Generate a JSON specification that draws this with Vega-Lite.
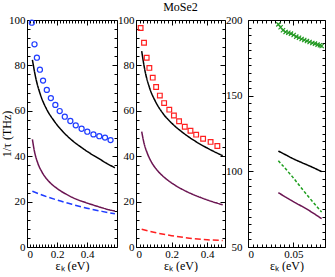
{
 "$schema": "https://vega.github.io/schema/vega-lite/v6.json",
 "padding": {"left": 0, "top": 0, "right": 0, "bottom": 0},
 "spacing": -2,
 "config": {
  "view": {"stroke": "#000", "strokeWidth": 1},
  "axis": {"labelFont": "Liberation Serif", "titleFont": "Liberation Serif", "labelFontSize": 11, "titleFontSize": 12, "titleFontWeight": "normal", "labelColor": "#000", "titleColor": "#000", "tickColor": "#000", "domain": false, "grid": false, "minExtent": 0},
  "axisTop": {"maxExtent": 0, "minExtent": 0},
  "axisRight": {"maxExtent": 0, "minExtent": 0},
  "title": {"font": "Liberation Serif", "fontSize": 12, "fontWeight": "normal", "color": "#000"}
 },
 "datasets": {
  "p1": [
   {"s": "pt", "x": 0.032, "y": 98.8}, {"s": "pt", "x": 0.05, "y": 89.3}, {"s": "pt", "x": 0.066, "y": 83.4}, {"s": "pt", "x": 0.086, "y": 78.1}, {"s": "pt", "x": 0.107, "y": 73.3}, {"s": "pt", "x": 0.132, "y": 69.2}, {"s": "pt", "x": 0.159, "y": 65.6}, {"s": "pt", "x": 0.189, "y": 62.6}, {"s": "pt", "x": 0.218, "y": 59.9}, {"s": "pt", "x": 0.252, "y": 57.4}, {"s": "pt", "x": 0.289, "y": 55.5}, {"s": "pt", "x": 0.325, "y": 53.6}, {"s": "pt", "x": 0.364, "y": 52.1}, {"s": "pt", "x": 0.402, "y": 50.8}, {"s": "pt", "x": 0.443, "y": 49.6}, {"s": "pt", "x": 0.482, "y": 48.8}, {"s": "pt", "x": 0.52, "y": 48.2}, {"s": "pt", "x": 0.557, "y": 47.1},
   {"s": "black", "x": 0.036, "y": 82.4}, {"s": "black", "x": 0.06, "y": 74.0}, {"s": "black", "x": 0.09, "y": 67.0}, {"s": "black", "x": 0.13, "y": 60.8}, {"s": "black", "x": 0.18, "y": 55.6}, {"s": "black", "x": 0.24, "y": 50.8}, {"s": "black", "x": 0.3, "y": 47.0}, {"s": "black", "x": 0.36, "y": 44.0}, {"s": "black", "x": 0.42, "y": 41.3}, {"s": "black", "x": 0.48, "y": 38.9}, {"s": "black", "x": 0.53, "y": 36.9}, {"s": "black", "x": 0.586, "y": 34.9},
   {"s": "purple", "x": 0.036, "y": 47.4}, {"s": "purple", "x": 0.05, "y": 42.0}, {"s": "purple", "x": 0.07, "y": 37.3}, {"s": "purple", "x": 0.1, "y": 33.0}, {"s": "purple", "x": 0.14, "y": 29.3}, {"s": "purple", "x": 0.2, "y": 25.8}, {"s": "purple", "x": 0.26, "y": 23.3}, {"s": "purple", "x": 0.32, "y": 21.3}, {"s": "purple", "x": 0.39, "y": 19.6}, {"s": "purple", "x": 0.46, "y": 18.1}, {"s": "purple", "x": 0.52, "y": 16.9}, {"s": "purple", "x": 0.586, "y": 15.8},
   {"s": "dashblue", "x": 0.036, "y": 24.6}, {"s": "dashblue", "x": 0.1, "y": 22.9}, {"s": "dashblue", "x": 0.2, "y": 20.7}, {"s": "dashblue", "x": 0.3, "y": 18.8}, {"s": "dashblue", "x": 0.4, "y": 17.1}, {"s": "dashblue", "x": 0.5, "y": 15.7}, {"s": "dashblue", "x": 0.586, "y": 14.6}
  ],
  "p2": [
   {"s": "pt", "x": 0.026, "y": 96.5}, {"s": "pt", "x": 0.045, "y": 90.0}, {"s": "pt", "x": 0.06, "y": 83.4}, {"s": "pt", "x": 0.075, "y": 78.9}, {"s": "pt", "x": 0.094, "y": 74.6}, {"s": "pt", "x": 0.113, "y": 70.5}, {"s": "pt", "x": 0.134, "y": 66.7}, {"s": "pt", "x": 0.158, "y": 63.4}, {"s": "pt", "x": 0.187, "y": 60.5}, {"s": "pt", "x": 0.213, "y": 57.9}, {"s": "pt", "x": 0.242, "y": 55.4}, {"s": "pt", "x": 0.274, "y": 53.0}, {"s": "pt", "x": 0.306, "y": 51.2}, {"s": "pt", "x": 0.338, "y": 49.5}, {"s": "pt", "x": 0.377, "y": 47.7}, {"s": "pt", "x": 0.419, "y": 46.3}, {"s": "pt", "x": 0.457, "y": 44.5},
   {"s": "black", "x": 0.032, "y": 86.3}, {"s": "black", "x": 0.05, "y": 77.8}, {"s": "black", "x": 0.075, "y": 70.4}, {"s": "black", "x": 0.11, "y": 64.0}, {"s": "black", "x": 0.15, "y": 59.0}, {"s": "black", "x": 0.2, "y": 54.6}, {"s": "black", "x": 0.25, "y": 51.2}, {"s": "black", "x": 0.3, "y": 48.3}, {"s": "black", "x": 0.35, "y": 45.8}, {"s": "black", "x": 0.4, "y": 43.6}, {"s": "black", "x": 0.45, "y": 41.6}, {"s": "black", "x": 0.487, "y": 40.2},
   {"s": "purple", "x": 0.032, "y": 50.8}, {"s": "purple", "x": 0.045, "y": 45.8}, {"s": "purple", "x": 0.065, "y": 41.0}, {"s": "purple", "x": 0.09, "y": 37.0}, {"s": "purple", "x": 0.125, "y": 33.3}, {"s": "purple", "x": 0.166, "y": 30.2}, {"s": "purple", "x": 0.21, "y": 27.7}, {"s": "purple", "x": 0.26, "y": 25.4}, {"s": "purple", "x": 0.31, "y": 23.5}, {"s": "purple", "x": 0.36, "y": 21.9}, {"s": "purple", "x": 0.42, "y": 20.2}, {"s": "purple", "x": 0.487, "y": 18.6},
   {"s": "dashred", "x": 0.032, "y": 7.8}, {"s": "dashred", "x": 0.1, "y": 6.5}, {"s": "dashred", "x": 0.2, "y": 5.0}, {"s": "dashred", "x": 0.3, "y": 3.9}, {"s": "dashred", "x": 0.4, "y": 3.2}, {"s": "dashred", "x": 0.487, "y": 2.9}
  ],
  "p3": [
   {"s": "pt", "x": 0.0335, "y": 197.1}, {"s": "pt", "x": 0.036, "y": 195.2}, {"s": "pt", "x": 0.0386, "y": 193.2}, {"s": "pt", "x": 0.0415, "y": 192.1}, {"s": "pt", "x": 0.0445, "y": 191.6}, {"s": "pt", "x": 0.0474, "y": 191.0}, {"s": "pt", "x": 0.0504, "y": 190.1}, {"s": "pt", "x": 0.0533, "y": 189.0}, {"s": "pt", "x": 0.0563, "y": 188.3}, {"s": "pt", "x": 0.0592, "y": 187.4}, {"s": "pt", "x": 0.0621, "y": 186.8}, {"s": "pt", "x": 0.0651, "y": 186.1}, {"s": "pt", "x": 0.068, "y": 185.5}, {"s": "pt", "x": 0.071, "y": 184.8}, {"s": "pt", "x": 0.0739, "y": 184.4}, {"s": "pt", "x": 0.0768, "y": 183.7}, {"s": "pt", "x": 0.0794, "y": 183.3}, {"s": "pt", "x": 0.0813, "y": 182.8},
   {"s": "black", "x": 0.0335, "y": 113.4}, {"s": "black", "x": 0.04, "y": 111.4}, {"s": "black", "x": 0.05, "y": 108.3}, {"s": "black", "x": 0.06, "y": 105.6}, {"s": "black", "x": 0.07, "y": 103.0}, {"s": "black", "x": 0.0813, "y": 99.8},
   {"s": "purple", "x": 0.0335, "y": 85.9}, {"s": "purple", "x": 0.05, "y": 80.0}, {"s": "purple", "x": 0.065, "y": 75.0}, {"s": "purple", "x": 0.0813, "y": 68.7},
   {"s": "dashgreen", "x": 0.0335, "y": 107.0}, {"s": "dashgreen", "x": 0.0489, "y": 96.5}, {"s": "dashgreen", "x": 0.0636, "y": 85.5}, {"s": "dashgreen", "x": 0.0813, "y": 73.1}
  ]
 },
 "resolve": {"scale": {"x": "independent", "y": "independent", "color": "shared", "strokeDash": "shared"}},
 "hconcat": [
  {
   "width": 90, "height": 227,
   "data": {"name": "p1"},
   "resolve": {"axis": {"x": "independent", "y": "independent"}},
   "layer": [
    {
     "transform": [{"filter": "datum.s != 'pt'"}],
     "mark": {"type": "line", "strokeWidth": 1.5, "interpolate": "monotone"},
     "encoding": {
      "x": {"field": "x", "type": "quantitative", "scale": {"domain": [0, 0.6], "nice": false, "zero": false}, "axis": {"orient": "bottom", "values": [0, 0.2, 0.4], "format": "~g", "title": "εₖ (eV)", "tickSize": -5, "labelPadding": 6, "titlePadding": 1}},
      "y": {"field": "y", "type": "quantitative", "scale": {"domain": [0, 100], "nice": false, "zero": false}, "axis": {"orient": "left", "values": [0, 20, 40, 60, 80, 100], "title": "1/τ (THz)", "tickSize": -5, "labelPadding": 7, "titlePadding": -5}},
      "color": {"field": "s", "type": "nominal", "scale": {"domain": ["black", "purple", "dashblue", "dashred", "dashgreen"], "range": ["#000000", "#6b1552", "#1f3cff", "#ff2020", "#1e9e1e"]}, "legend": null},
      "strokeDash": {"field": "s", "type": "nominal", "scale": {"domain": ["black", "purple", "dashblue", "dashred", "dashgreen"], "range": [[1, 0], [1, 0], [6, 3], [6, 3], [3, 2]]}, "legend": null}
     }
    },
    {
     "transform": [{"filter": "datum.s == 'pt'"}],
     "mark": {"type": "point", "shape": "circle", "color": "#1f3cff", "size": 26, "strokeWidth": 1.2, "opacity": 1},
     "encoding": {
      "x": {"field": "x", "type": "quantitative", "axis": {"orient": "bottom", "values": [0.02,0.04,0.06,0.08,0.1,0.12,0.14,0.16,0.18,0.2,0.22,0.24,0.26,0.28,0.3,0.32,0.34,0.36,0.38,0.4,0.42,0.44,0.46,0.48,0.5,0.52,0.54,0.56,0.58], "labels": false, "title": null, "tickSize": -3, "maxExtent": 0}},
      "y": {"field": "y", "type": "quantitative", "axis": {"orient": "left", "values": [4,8,12,16,24,28,32,36,44,48,52,56,64,68,72,76,84,88,92,96], "labels": false, "title": null, "tickSize": -3, "maxExtent": 0}}
     }
    },
    {
     "mark": {"type": "point", "opacity": 0},
     "encoding": {
      "x": {"field": "x", "type": "quantitative", "axis": {"orient": "top", "values": [0, 0.2, 0.4], "labels": false, "title": null, "tickSize": -5}},
      "y": {"field": "y", "type": "quantitative", "axis": {"orient": "right", "values": [0, 20, 40, 60, 80, 100], "labels": false, "title": null, "tickSize": -5}}
     }
    },
    {
     "mark": {"type": "point", "opacity": 0},
     "encoding": {
      "x": {"field": "x", "type": "quantitative", "axis": {"orient": "top", "values": [0.02,0.04,0.06,0.08,0.1,0.12,0.14,0.16,0.18,0.2,0.22,0.24,0.26,0.28,0.3,0.32,0.34,0.36,0.38,0.4,0.42,0.44,0.46,0.48,0.5,0.52,0.54,0.56,0.58], "labels": false, "title": null, "tickSize": -3}},
      "y": {"field": "y", "type": "quantitative", "axis": {"orient": "right", "values": [4,8,12,16,24,28,32,36,44,48,52,56,64,68,72,76,84,88,92,96], "labels": false, "title": null, "tickSize": -3}}
     }
    }
   ]
  },
  {
   "width": 89, "height": 227,
   "title": {"text": "MoSe2", "offset": 0},
   "data": {"name": "p2"},
   "resolve": {"axis": {"x": "independent", "y": "independent"}},
   "layer": [
    {
     "transform": [{"filter": "datum.s != 'pt'"}],
     "mark": {"type": "line", "strokeWidth": 1.5, "interpolate": "monotone"},
     "encoding": {
      "x": {"field": "x", "type": "quantitative", "scale": {"domain": [0, 0.5], "nice": false, "zero": false}, "axis": {"orient": "bottom", "values": [0, 0.2, 0.4], "format": "~g", "title": "εₖ (eV)", "tickSize": -5, "labelPadding": 6, "titlePadding": 1}},
      "y": {"field": "y", "type": "quantitative", "scale": {"domain": [0, 100], "nice": false, "zero": false}, "axis": {"orient": "left", "values": [0, 20, 40, 60, 80, 100], "title": null, "tickSize": -5, "labelPadding": 7}},
      "color": {"field": "s", "type": "nominal", "legend": null},
      "strokeDash": {"field": "s", "type": "nominal", "legend": null}
     }
    },
    {
     "transform": [{"filter": "datum.s == 'pt'"}],
     "mark": {"type": "point", "shape": "square", "color": "#ff2020", "size": 22, "strokeWidth": 1.2, "opacity": 1},
     "encoding": {
      "x": {"field": "x", "type": "quantitative", "axis": {"orient": "bottom", "values": [0.02,0.04,0.06,0.08,0.1,0.12,0.14,0.16,0.18,0.2,0.22,0.24,0.26,0.28,0.3,0.32,0.34,0.36,0.38,0.4,0.42,0.44,0.46,0.48], "labels": false, "title": null, "tickSize": -3, "maxExtent": 0}},
      "y": {"field": "y", "type": "quantitative", "axis": {"orient": "left", "values": [4,8,12,16,24,28,32,36,44,48,52,56,64,68,72,76,84,88,92,96], "labels": false, "title": null, "tickSize": -3, "maxExtent": 0}}
     }
    },
    {
     "mark": {"type": "point", "opacity": 0},
     "encoding": {
      "x": {"field": "x", "type": "quantitative", "axis": {"orient": "top", "values": [0, 0.2, 0.4], "labels": false, "title": null, "tickSize": -5}},
      "y": {"field": "y", "type": "quantitative", "axis": {"orient": "right", "values": [0, 20, 40, 60, 80, 100], "labels": false, "title": null, "tickSize": -5}}
     }
    },
    {
     "mark": {"type": "point", "opacity": 0},
     "encoding": {
      "x": {"field": "x", "type": "quantitative", "axis": {"orient": "top", "values": [0.02,0.04,0.06,0.08,0.1,0.12,0.14,0.16,0.18,0.2,0.22,0.24,0.26,0.28,0.3,0.32,0.34,0.36,0.38,0.4,0.42,0.44,0.46,0.48], "labels": false, "title": null, "tickSize": -3}},
      "y": {"field": "y", "type": "quantitative", "axis": {"orient": "right", "values": [4,8,12,16,24,28,32,36,44,48,52,56,64,68,72,76,84,88,92,96], "labels": false, "title": null, "tickSize": -3}}
     }
    }
   ]
  },
  {
   "width": 77, "height": 227,
   "data": {"name": "p3"},
   "resolve": {"axis": {"x": "independent", "y": "independent"}},
   "layer": [
    {
     "transform": [{"filter": "datum.s != 'pt'"}],
     "mark": {"type": "line", "strokeWidth": 1.5, "interpolate": "monotone"},
     "encoding": {
      "x": {"field": "x", "type": "quantitative", "scale": {"domain": [0, 0.085], "nice": false, "zero": false}, "axis": {"orient": "bottom", "values": [0, 0.05], "format": "~g", "title": "εₖ (eV)", "tickSize": -5, "labelPadding": 6, "titlePadding": 1}},
      "y": {"field": "y", "type": "quantitative", "scale": {"domain": [50, 200], "nice": false, "zero": false}, "axis": {"orient": "left", "values": [50, 100, 150, 200], "title": null, "tickSize": -5, "labelPadding": 11}},
      "color": {"field": "s", "type": "nominal", "legend": null},
      "strokeDash": {"field": "s", "type": "nominal", "legend": null}
     }
    },
    {
     "transform": [{"filter": "datum.s == 'pt'"}],
     "mark": {"type": "point", "shape": "M-1,-1L1,1M-1,1L1,-1", "color": "#229922", "size": 18, "strokeWidth": 1.2, "opacity": 1},
     "encoding": {
      "x": {"field": "x", "type": "quantitative", "axis": {"orient": "bottom", "values": [0.005,0.01,0.015,0.02,0.025,0.03,0.035,0.04,0.045,0.05,0.055,0.06,0.065,0.07,0.075,0.08], "labels": false, "title": null, "tickSize": -3, "maxExtent": 0}},
      "y": {"field": "y", "type": "quantitative", "axis": {"orient": "left", "values": [55,60,65,70,75,80,85,90,95,105,110,115,120,125,130,135,140,145,155,160,165,170,175,180,185,190,195], "labels": false, "title": null, "tickSize": -3, "maxExtent": 0}}
     }
    },
    {
     "mark": {"type": "point", "opacity": 0},
     "encoding": {
      "x": {"field": "x", "type": "quantitative", "axis": {"orient": "top", "values": [0, 0.05], "labels": false, "title": null, "tickSize": -5}},
      "y": {"field": "y", "type": "quantitative", "axis": {"orient": "right", "values": [50, 100, 150, 200], "labels": false, "title": null, "tickSize": -5}}
     }
    },
    {
     "mark": {"type": "point", "opacity": 0},
     "encoding": {
      "x": {"field": "x", "type": "quantitative", "axis": {"orient": "top", "values": [0.005,0.01,0.015,0.02,0.025,0.03,0.035,0.04,0.045,0.05,0.055,0.06,0.065,0.07,0.075,0.08], "labels": false, "title": null, "tickSize": -3}},
      "y": {"field": "y", "type": "quantitative", "axis": {"orient": "right", "values": [55,60,65,70,75,80,85,90,95,105,110,115,120,125,130,135,140,145,155,160,165,170,175,180,185,190,195], "labels": false, "title": null, "tickSize": -3}}
     }
    }
   ]
  }
 ]
}
